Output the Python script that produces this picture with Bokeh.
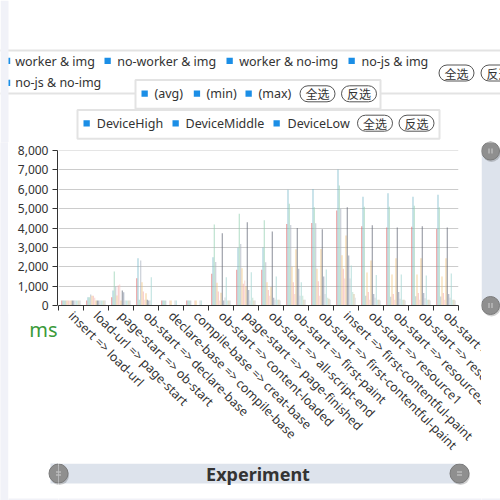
import math
from bokeh.plotting import figure
from bokeh.layouts import row, column
from bokeh.models import (Range1d, FixedTicker, NumeralTickFormatter, Grid,
                          ColumnDataSource)
from bokeh.core.properties import value
from bokeh.transform import dodge
from bokeh.embed import file_html
from bokeh.resources import INLINE

# ---------------- data ----------------
categories = [
    "insert => load-url", "load-url => page-start", "page-start => ob-start",
    "ob-start => declare-base", "declare-base => compile-base",
    "compile-base => creat-base", "ob-start => content-loaded",
    "page-start => page-finished", "ob-start => all-script-end",
    "ob-start => first-paint", "ob-start => first-contentful-paint",
    "insert => first-contentful-paint", "ob-start => resource1",
    "ob-start => resource2", "ob-start => resource3", "ob-start => resource4",
]
y_ticks = [0, 1000, 2000, 3000, 4000, 5000, 6000, 7000, 8000]

experiments = ["worker & img", "no-worker & img", "worker & no-img",
               "no-js & img", "no-js & no-img"]
stats = ["(avg)", "(min)", "(max)"]
devices = ["DeviceHigh", "DeviceMiddle", "DeviceLow"]
buttons = ["全选", "反选"]
unit_label = "ms"
slider_label = "Experiment"

worker_img_avg      = [260, 260, 430, 1410, 260, 260, 1635, 1840, 1850, 4210, 4260, 4900, 4090, 4020, 4070, 3950]
worker_img_min      = [260, 430, 775, 2440, 260, 260, 2490, 2980, 3000, 5970, 6020, 7020, 5620, 5800, 5620, 5720]
worker_img_max      = [260, 430, 1750, 300, 260, 260, 4180, 4730, 4400, 5250, 5070, 6190, 5100, 5100, 5150, 5070]
noworker_img_avg    = [260, 570, 980, 2320, 260, 260, 2240, 3180, 2230, 4160, 4240, 4990, 500, 450, 480, 470]
noworker_img_min    = [260, 500, 520, 1200, 0, 0, 1170, 1920, 1200, 2000, 1900, 2600, 1700, 1600, 1600, 1500]
noworker_img_max    = [260, 500, 1030, 720, 0, 0, 720, 1120, 800, 1200, 1250, 1900, 700, 600, 650, 650]
worker_noimg_avg    = [260, 400, 1080, 300, 260, 260, 260, 1290, 500, 600, 500, 1400, 300, 300, 300, 300]
worker_noimg_min    = [260, 260, 260, 635, 260, 260, 655, 1000, 950, 2900, 2920, 3610, 2320, 2440, 2440, 2440]
worker_noimg_max    = [260, 260, 775, 300, 0, 0, 3730, 4300, 3820, 4000, 3940, 5070, 4140, 4020, 4090, 4020]
nojs_img_avg        = [260, 260, 690, 260, 0, 0, 260, 800, 400, 1900, 1500, 2580, 600, 700, 650, 600]
nojs_img_min        = [260, 260, 260, 260, 260, 260, 410, 260, 300, 500, 600, 1400, 400, 350, 380, 400]
nojs_img_max        = [260, 260, 260, 1460, 260, 260, 1460, 1720, 1500, 1200, 1860, 2060, 1570, 1600, 1550, 1650]
nojs_noimg_avg      = [260, 260, 260, 0, 0, 0, 260, 400, 300, 500, 400, 700, 300, 300, 300, 300]
nojs_noimg_min      = [260, 260, 260, 0, 0, 0, 260, 260, 300, 300, 350, 600, 300, 300, 300, 300]
nojs_noimg_max      = [260, 260, 260, 0, 0, 0, 260, 260, 260, 300, 300, 400, 260, 260, 260, 260]

series = [worker_img_avg, worker_img_min, worker_img_max,
          noworker_img_avg, noworker_img_min, noworker_img_max,
          worker_noimg_avg, worker_noimg_min, worker_noimg_max,
          nojs_img_avg, nojs_img_min, nojs_img_max,
          nojs_noimg_avg, nojs_noimg_min, nojs_noimg_max]
series_names = [f"{e} {s}" for e in experiments for s in stats]
colors = ["#e06c6c", "#6fb3c6", "#93d0b0", "#aab2c0", "#f0c27a",
          "#f2aaaa", "#f6c6c0", "#efba6a", "#5e6572", "#7d8aa3",
          "#c3c8d0", "#9fd3cf", "#b5dcc4", "#cbb68a", "#d0d4da"]

# ---------------- page geometry (pixels) ----------------
FL, FR, FT, FB = 58, 458, 150, 305     # plot frame
TOP_H = 142                             # top decoration band
MID_BOTTOM = 463                        # end of the chart band
RIGHT_X = 481                           # start of the right strip

TXT = "#333333"
BLUE = "#1b8ee6"
BORDER = "#e3e3e3"
LAV = "#f1f2f8"
SLIDER = "#dde3ec"
HANDLE = "#8f8f8f"
FONT = value("Noto Sans")
CJK = value("Noto Sans CJK SC")


def draw_decor(f, bounds):
    """All decorations in page-pixel coordinates (y grows downward).
    Shapes are drawn in every piece (clipped); each text only in its own piece."""
    x0, y0, x1, y1 = bounds

    def put_text(xs, ys, texts, **kw):
        keep = [i for i in range(len(xs))
                if x0 <= xs[i] < x1 and y0 <= ys[i] < y1]
        if keep:
            f.text(x=[xs[i] for i in keep], y=[ys[i] for i in keep],
                   text=[texts[i] for i in keep], text_baseline="middle", **kw)

    # legend box 1 (experiments, scrolled so its left border is hidden)
    f.quad(left=[-10], right=[520], top=[50], bottom=[93], fill_color="white",
           line_color=BORDER, line_width=2)
    # page background strip and bottom of the card
    f.quad(left=[0, 0], right=[8, 500], top=[0, 498], bottom=[500, 500],
           fill_color=LAV, line_color=None)
    # legend boxes 2 and 3
    f.quad(left=[135, 77], right=[380, 439], top=[79.5, 109.5],
           bottom=[108.3, 138.3], fill_color="white", line_color=BORDER,
           line_width=2)

    sq_x = [8, 104, 226, 348, 8, 141, 193.3, 245, 83, 172, 273]
    sq_w = [1.7, 6.3, 6.3, 6.3, 1.7, 6.3, 6.3, 6.3, 6.3, 6.3, 6.3]
    sq_y = [57.3, 57.3, 57.3, 57.3, 79.3, 90, 90, 90, 119.7, 119.7, 119.7]
    f.quad(left=sq_x, right=[a + b for a, b in zip(sq_x, sq_w)], top=sq_y,
           bottom=[y + 6.3 for y in sq_y], fill_color=BLUE, line_color=None)

    legend_style = dict(text_font=FONT, text_font_size="12.5px",
                        text_color=TXT, text_align="left")
    put_text([14.7, 116.7, 238.7, 361, 14.7],
             [60.7, 60.7, 60.7, 60.7, 82.3], experiments, **legend_style)
    put_text([154, 206, 258], [93.3] * 3, stats, **legend_style)
    put_text([96.3, 185, 287], [122.7] * 3, devices, **legend_style)

    # 全选 / 反选 pill buttons
    pill_x = [456, 498, 317, 358.5, 374.5, 416]
    pill_y = [72.5, 72.5, 93.3, 93.3, 122.7, 122.7]
    f.quad(left=[x - 17.5 for x in pill_x], right=[x + 17.5 for x in pill_x],
           top=[y - 8 for y in pill_y], bottom=[y + 8 for y in pill_y],
           fill_color="white", line_color="#555555", line_width=1,
           border_radius=8)
    put_text(pill_x, pill_y, buttons * 3, text_font=CJK,
             text_font_size="12px", text_color=TXT, text_align="center")

    # y-axis unit
    put_text([57], [329], [unit_label], text_font=FONT,
             text_font_size="20px", text_color="#3a9a3a", text_align="right")

    # right vertical zoom slider
    f.quad(left=[481], right=[510], top=[150.5], bottom=[305],
           fill_color=SLIDER, line_color=None)
    hx = [490, 490]
    hy = [150.5, 305]
    f.scatter(x=[x + 1 for x in hx], y=[y + 2 for y in hy], size=18,
              marker="circle", fill_color="black", fill_alpha=0.18,
              line_color=None)
    f.scatter(x=hx, y=hy, size=18, marker="circle", fill_color=HANDLE,
              line_color="#7a7a7a")
    f.segment(x0=[x + d for x in hx for d in (-1.5, 1.5)],
              x1=[x + d for x in hx for d in (-1.5, 1.5)],
              y0=[y - 2.5 for y in hy for _ in (0, 1)],
              y1=[y + 2.5 for y in hy for _ in (0, 1)],
              line_color="#cfcfcf", line_width=1)

    # bottom horizontal zoom slider
    f.quad(left=[50], right=[463], top=[463], bottom=[483],
           fill_color=SLIDER, line_color=None)
    bx = [58, 459]
    by = [473, 473]
    f.scatter(x=[x + 1 for x in bx], y=[y + 2 for y in by], size=19,
              marker="circle", fill_color="black", fill_alpha=0.18,
              line_color=None)
    f.scatter(x=bx, y=by, size=19, marker="circle", fill_color=HANDLE,
              line_color="#7a7a7a")
    f.segment(x0=[x - 2.5 for x in bx for _ in (0, 1)],
              x1=[x + 2.5 for x in bx for _ in (0, 1)],
              y0=[y + d for y in by for d in (-1.5, 1.5)],
              y1=[y + d for y in by for d in (-1.5, 1.5)],
              line_color="#cfcfcf", line_width=1)
    put_text([257.5], [473.5], [slider_label], text_font=FONT,
             text_font_size="18px", text_font_style="bold", text_color=TXT,
             text_align="center")


def deco(x0, y0, w, h, bg="white"):
    f = figure(width=w, height=h, x_range=Range1d(x0, x0 + w),
               y_range=Range1d(y0 + h, y0), output_backend="svg",
               toolbar_location=None, x_axis_location=None,
               y_axis_location=None, min_border_left=0, min_border_right=0,
               min_border_top=0, min_border_bottom=0)
    f.outline_line_color = None
    f.grid.visible = False
    f.background_fill_color = bg
    f.border_fill_color = bg
    draw_decor(f, (x0, y0, x0 + w, y0 + h))
    return f


# ---------------- main chart ----------------
n = len(categories)
data = {"idx": [i + 0.5 for i in range(n)]}
for name, vals in zip(series_names, series):
    data[name] = vals
src = ColumnDataSource(data)

# the tiny extra headroom keeps the top (8,000) grid line from being dropped
y_range = Range1d(y_ticks[0], y_ticks[-1] + 1)

main = figure(width=RIGHT_X - FL, height=MID_BOTTOM - TOP_H,
              output_backend="svg", toolbar_location=None,
              x_range=Range1d(0, n), y_range=y_range, y_axis_location=None,
              min_border_left=0, min_border_right=RIGHT_X - FR,
              min_border_top=FT - TOP_H, min_border_bottom=MID_BOTTOM - FB)
main.outline_line_color = None
main.background_fill_color = "white"
main.border_fill_color = "white"
main.grid.visible = False
main.add_layout(Grid(dimension=1, ticker=FixedTicker(ticks=y_ticks),
                     grid_line_color="#cccccc"))

group = 0.8
bw = group / len(series_names)
for k, (name, col) in enumerate(zip(series_names, colors)):
    off = -group / 2 + (k + 0.5) * bw
    main.vbar(x=dodge("idx", off, range=main.x_range), top=name, width=bw,
              source=src, fill_color=col, fill_alpha=0.55, line_color=None)

# category labels sit at band centres; tick marks at band boundaries.
# An empty trailing label keeps Bokeh from pulling the last real label inward.
label_pos = [i + 0.5 for i in range(n)]
end_pos = n - 0.001
xa = main.xaxis[0]
xa.ticker = FixedTicker(ticks=label_pos + [end_pos],
                        minor_ticks=list(range(n + 1)))
overrides = {pos: c for pos, c in zip(label_pos, categories)}
overrides[end_pos] = ""
xa.major_label_overrides = overrides
xa.major_tick_line_color = None
xa.minor_tick_in = 0
xa.minor_tick_out = 5
xa.minor_tick_line_color = TXT
xa.axis_line_color = TXT
xa.major_label_orientation = -math.pi / 4
xa.major_label_text_font = "Noto Sans"
xa.major_label_text_font_size = "12.5px"
xa.major_label_text_color = TXT
xa.major_label_standoff = 2

# y axis lives in its own narrow figure sharing the y range
YAX_BOTTOM = FB + 8
yax = figure(width=FL - 8, height=YAX_BOTTOM - TOP_H,
             output_backend="svg", toolbar_location=None,
             x_range=Range1d(0, 1), y_range=y_range, x_axis_location=None,
             min_border_left=FL - 9, min_border_right=0,
             min_border_top=FT - TOP_H, min_border_bottom=YAX_BOTTOM - FB)
yax.outline_line_color = None
yax.grid.visible = False
yax.background_fill_color = "white"
yax.border_fill_color = "white"
ya = yax.yaxis[0]
ya.ticker = FixedTicker(ticks=y_ticks)
ya.formatter = NumeralTickFormatter(format="0,0")
ya.minor_tick_line_color = None
ya.major_tick_in = 0
ya.major_tick_out = 5
ya.major_tick_line_color = TXT
ya.axis_line_color = TXT
ya.major_label_text_font = "Noto Sans"
ya.major_label_text_font_size = "12px"
ya.major_label_text_color = TXT
ya.major_label_standoff = 4

top_band = deco(0, 0, 500, TOP_H)
strip = deco(0, TOP_H, 8, 500 - TOP_H, bg=LAV)
left_bottom = deco(8, YAX_BOTTOM, FL - 8, 500 - YAX_BOTTOM)
mid_bottom = deco(FL, MID_BOTTOM, RIGHT_X - FL, 500 - MID_BOTTOM)
right_strip = deco(RIGHT_X, TOP_H, 500 - RIGHT_X, 500 - TOP_H)

# wrap decoration pieces so that the plots in one column are not frame-aligned
layout = column(top_band,
                row(strip,
                    column(yax, row(left_bottom)),
                    column(main, row(mid_bottom)),
                    right_strip))

open("out.html", "w").write(file_html(layout, INLINE))
